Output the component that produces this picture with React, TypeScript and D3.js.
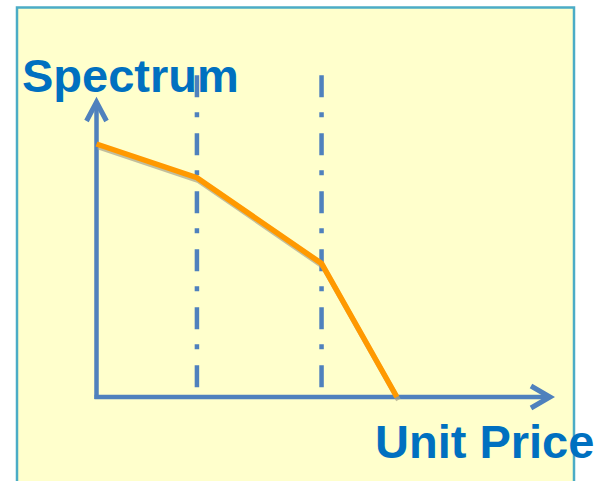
import React from "react";
import * as d3 from "d3";

// Price breakpoints (relative units along the price axis)
const priceBreaks: number[] = [0, 22, 49.3, 65.8];
// Spectrum values at each breakpoint
const spectrumValues: number[] = [84.9, 73.6, 44.8, 0];
// Positions of the dash-dot divider lines (price units)
const dividerPrices: number[] = [22, 49.3];
const axisLabels = { y: "Spectrum", x: "Unit Price" };

const W = 597;
const H = 481;

export default function App() {
  const x = d3.scaleLinear().domain([0, 100]).range([96.5, 553]);
  const y = d3.scaleLinear().domain([0, 100]).range([397, 99]);

  const pts: [number, number][] = priceBreaks.map((p, i) => [x(p), y(spectrumValues[i])]);
  const line = d3.line<[number, number]>().x((d) => d[0]).y((d) => d[1]);
  const shadowPts: [number, number][] = pts.map(([a, b]) => [a + 1.5, b + 3]);

  const axisColor = "#4F81BD";
  const textColor = "#0070C0";

  return (
    <svg
      width={W}
      height={H}
      style={{ position: "absolute", left: 0, top: 0 }}
      viewBox={`0 0 ${W} ${H}`}
    >
      <rect x={0} y={0} width={W} height={H} fill="#ffffff" />
      <rect x={17} y={7.5} width={557} height={500} fill="#FFFFCC" stroke="#4BACC6" strokeWidth={2.5} />

      {/* dash-dot dividers */}
      {dividerPrices.map((p, i) => (
        <line
          key={i}
          x1={x(p)}
          x2={x(p)}
          y1={y(108)}
          y2={y(2.7)}
          stroke={axisColor}
          strokeWidth={4.5}
          strokeDasharray="22,15,5,16"
        />
      ))}

      {/* axes */}
      <line x1={x(0)} x2={x(0)} y1={y(0) + 2} y2={y(100) + 3} stroke={axisColor} strokeWidth={4.5} />
      <line x1={x(0) - 2} x2={x(100) - 3} y1={y(0)} y2={y(0)} stroke={axisColor} strokeWidth={4.5} />
      <polyline
        points={`${x(0) - 10},${y(100) + 22} ${x(0)},${y(100) + 3} ${x(0) + 10},${y(100) + 22}`}
        fill="none"
        stroke={axisColor}
        strokeWidth={5}
        strokeLinejoin="miter"
      />
      <polyline
        points={`${x(100) - 22},${y(0) - 11} ${x(100) - 3},${y(0)} ${x(100) - 22},${y(0) + 11}`}
        fill="none"
        stroke={axisColor}
        strokeWidth={5}
        strokeLinejoin="miter"
      />

      {/* shadow + line */}
      <path d={line(shadowPts) || ""} fill="none" stroke="#a8a48a" strokeWidth={5} strokeOpacity={0.7} strokeLinejoin="round" />
      <path d={line(pts) || ""} fill="none" stroke="#FF9900" strokeWidth={5.5} strokeLinejoin="miter" />

      <text
        x={22}
        y={92}
        fill={textColor}
        fontFamily="Liberation Sans, Arial, sans-serif"
        fontWeight="bold"
        fontSize={47}
      >
        {axisLabels.y}
      </text>
      <text
        x={375}
        y={458}
        fill={textColor}
        fontFamily="Liberation Sans, Arial, sans-serif"
        fontWeight="bold"
        fontSize={47}
      >
        {axisLabels.x}
      </text>
    </svg>
  );
}
